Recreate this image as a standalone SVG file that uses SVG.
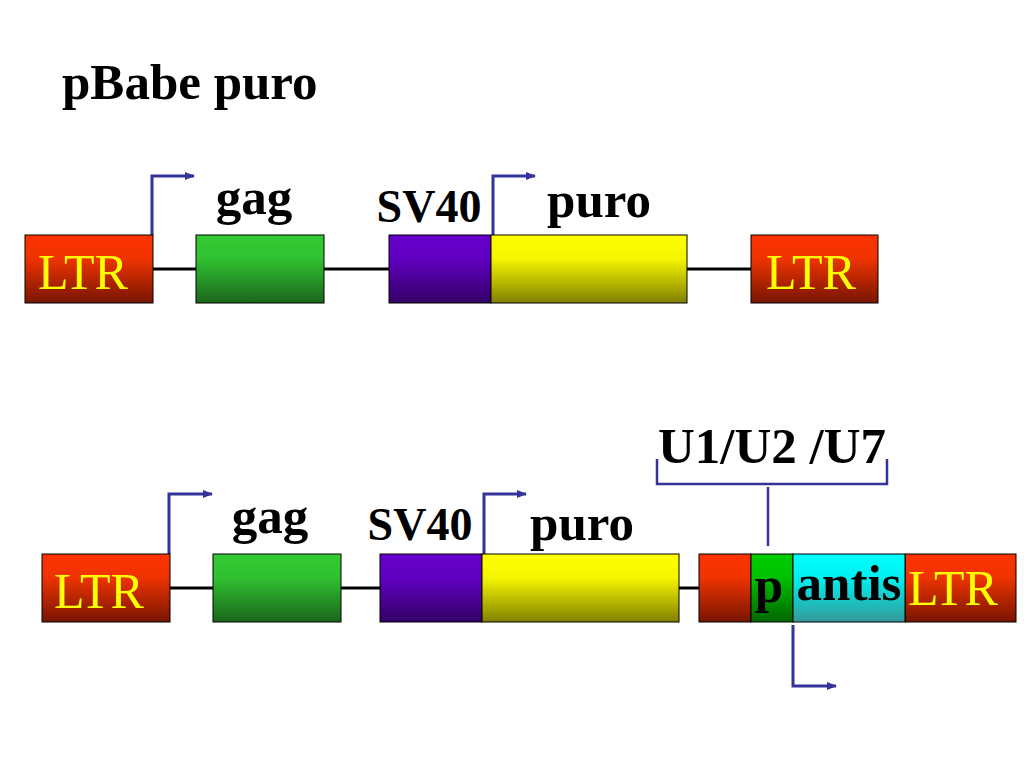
<svg xmlns="http://www.w3.org/2000/svg" width="1024" height="768" viewBox="0 0 1024 768">
<defs>
<linearGradient id="gRed" x1="0" y1="0" x2="0" y2="1"><stop offset="0" stop-color="#ff3300"/><stop offset="0.35" stop-color="#ee3300"/><stop offset="1" stop-color="#771500"/></linearGradient>
<linearGradient id="gGreen" x1="0" y1="0" x2="0" y2="1"><stop offset="0" stop-color="#33cc33"/><stop offset="0.35" stop-color="#30c030"/><stop offset="1" stop-color="#1a661a"/></linearGradient>
<linearGradient id="gPurple" x1="0" y1="0" x2="0" y2="1"><stop offset="0" stop-color="#6600cc"/><stop offset="0.35" stop-color="#6000c0"/><stop offset="1" stop-color="#330066"/></linearGradient>
<linearGradient id="gYellow" x1="0" y1="0" x2="0" y2="1"><stop offset="0" stop-color="#ffff00"/><stop offset="0.35" stop-color="#f5f500"/><stop offset="1" stop-color="#808000"/></linearGradient>
<linearGradient id="gP" x1="0" y1="0" x2="0" y2="1"><stop offset="0" stop-color="#00cc00"/><stop offset="0.35" stop-color="#00c000"/><stop offset="1" stop-color="#006600"/></linearGradient>
<linearGradient id="gCyan" x1="0" y1="0" x2="0" y2="1"><stop offset="0" stop-color="#00ffff"/><stop offset="0.35" stop-color="#00f0f0"/><stop offset="1" stop-color="#339999"/></linearGradient>
<marker id="ah" viewBox="0 0 10 10" refX="9" refY="5" markerWidth="10" markerHeight="10" markerUnits="userSpaceOnUse" orient="auto"><path d="M0,1 L10,5 L0,9 z" fill="#333399"/></marker>
</defs>
<style>
.box{stroke:#000;stroke-width:1}
.line{stroke:#000;stroke-width:3;fill:none}
.arr{stroke:#333399;stroke-width:3;fill:none}
.lbl{font-family:"Liberation Serif",serif;font-weight:bold;fill:#000}
.ltr{font-family:"Liberation Serif",serif;fill:#ffff00;font-size:50px}
</style>
<rect width="1024" height="768" fill="#fff"/>
<text class="lbl" x="62" y="99" font-size="51">pBabe puro</text>
<g id="connectors">
<line class="line" x1="153" y1="269" x2="751" y2="269"/>
<line class="line" x1="170" y1="588" x2="699" y2="588"/>
<path class="arr" d="M152,235 V176 H194" marker-end="url(#ah)"/>
<path class="arr" d="M493,235 V176 H535" marker-end="url(#ah)"/>
<path class="arr" d="M169,554 V494 H212" marker-end="url(#ah)"/>
<path class="arr" d="M484,554 V494 H526" marker-end="url(#ah)"/>
<path class="arr" d="M793,625 V686 H836" marker-end="url(#ah)"/>
<path d="M657,459 V484 H887 V459 M768,487 V546" stroke="#333399" stroke-width="2.5" fill="none"/>
</g>
<g id="ltr1"><rect class="box" x="25" y="235" width="128" height="68" fill="url(#gRed)"/><text class="ltr" x="38" y="289">LTR</text></g>
<g id="gag1"><rect class="box" x="196" y="235" width="128" height="68" fill="url(#gGreen)"/><text class="lbl" x="254" y="214" font-size="51" text-anchor="middle">gag</text></g>
<g id="sv40_1"><rect class="box" x="389" y="235" width="102" height="68" fill="url(#gPurple)"/><text class="lbl" x="429" y="222" font-size="46" text-anchor="middle">SV40</text></g>
<g id="puro1"><rect class="box" x="491" y="235" width="196" height="68" fill="url(#gYellow)"/><text class="lbl" x="599" y="217" font-size="51" text-anchor="middle">puro</text></g>
<g id="ltr2"><rect class="box" x="751" y="235" width="127" height="68" fill="url(#gRed)"/><text class="ltr" x="766" y="289">LTR</text></g>
<g id="ltr3"><rect class="box" x="42" y="554" width="128" height="68" fill="url(#gRed)"/><text class="ltr" x="54" y="608">LTR</text></g>
<g id="gag2"><rect class="box" x="213" y="554" width="128" height="68" fill="url(#gGreen)"/><text class="lbl" x="270" y="533" font-size="51" text-anchor="middle">gag</text></g>
<g id="sv40_2"><rect class="box" x="380" y="554" width="102" height="68" fill="url(#gPurple)"/><text class="lbl" x="420" y="540" font-size="46" text-anchor="middle">SV40</text></g>
<g id="puro2"><rect class="box" x="482" y="554" width="197" height="68" fill="url(#gYellow)"/><text class="lbl" x="582" y="540" font-size="51" text-anchor="middle">puro</text></g>
<g id="ltr4">
<rect class="box" x="699" y="554" width="52" height="68" fill="url(#gRed)"/>
<rect class="box" x="905" y="554" width="111" height="68" fill="url(#gRed)"/>
<text class="ltr" x="908" y="605">LTR</text>
</g>
<g id="p"><rect class="box" x="751" y="554" width="42" height="68" fill="url(#gP)"/><text class="lbl" x="769" y="602" font-size="51" text-anchor="middle">p</text></g>
<g id="antis"><rect class="box" x="793" y="554" width="112" height="68" fill="url(#gCyan)"/><text class="lbl" x="849" y="600" font-size="51" text-anchor="middle">antis</text></g>
<g id="u-label"><text class="lbl" x="772" y="463" font-size="51" text-anchor="middle">U1/U2 /U7</text></g>
</svg>
